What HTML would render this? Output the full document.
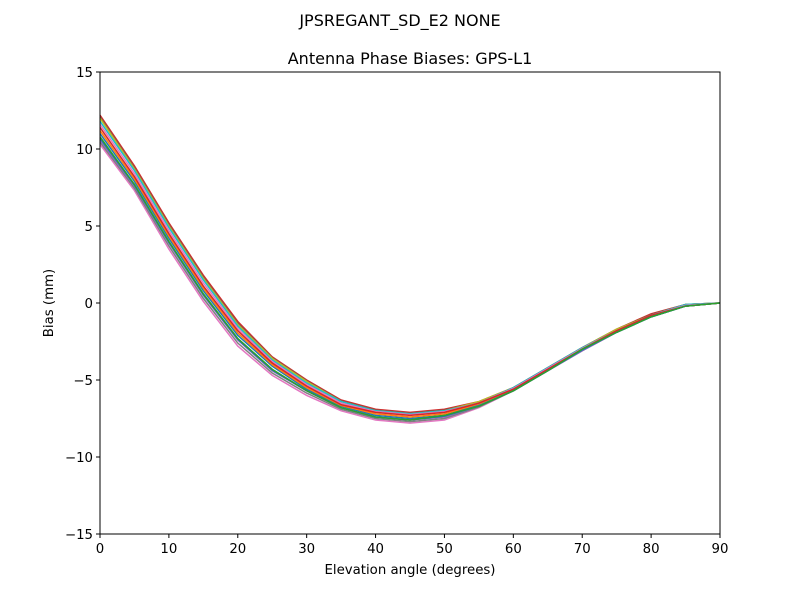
<!DOCTYPE html>
<html><head><meta charset="utf-8"><style>
body{margin:0;background:#fff;}
svg text{font-family:"DejaVu Sans","Liberation Sans",sans-serif;fill:#000;}
</style></head><body>
<svg id="chart" width="800" height="600" xmlns="http://www.w3.org/2000/svg">
<rect width="800" height="600" fill="#fff"/>
<text x="400" y="26" font-size="16" text-anchor="middle">JPSREGANT_SD_E2 NONE</text>
<text x="410" y="64" font-size="16" text-anchor="middle">Antenna Phase Biases: GPS-L1</text>
<g id="lines"></g>
<g id="axes"></g>
<rect x="100" y="72" width="620" height="462" fill="none" stroke="#000" stroke-width="1"/>
<text x="410" y="574" font-size="13.3" text-anchor="middle">Elevation angle (degrees)</text>
<text transform="translate(53,303) rotate(-90)" font-size="13.3" text-anchor="middle">Bias (mm)</text>
</svg>
<script>
const elevations=[0,5,10,15,20,25,30,35,40,45,50,55,60,65,70,75,80,85,90];
const xTicks=[0,10,20,30,40,50,60,70,80,90];
const yTicks=[-15,-10,-5,0,5,10,15];
const s1=[12.2,8.9,5.2,1.8,-1.2,-3.5,-5.0,-6.3,-6.9,-7.1,-6.9,-6.4,-5.5,-4.2,-2.9,-1.7,-0.7,-0.1,0];
const s2=[11.8,8.6,4.9,1.5,-1.5,-3.7,-5.2,-6.4,-7.0,-7.2,-7.0,-6.5,-5.5,-4.2,-2.9,-1.8,-0.8,-0.1,0];
const s3=[11.4,8.2,4.5,1.1,-1.8,-3.9,-5.4,-6.6,-7.1,-7.3,-7.1,-6.5,-5.6,-4.3,-3.0,-1.8,-0.8,-0.2,0];
const s4=[11.0,7.9,4.2,0.8,-2.1,-4.1,-5.6,-6.7,-7.3,-7.5,-7.3,-6.6,-5.6,-4.3,-3.0,-1.9,-0.9,-0.2,0];
const s5=[10.6,7.6,3.9,0.5,-2.4,-4.4,-5.7,-6.8,-7.4,-7.6,-7.4,-6.7,-5.7,-4.4,-3.1,-1.9,-0.9,-0.2,0];
const s6=[10.3,7.3,3.5,0.1,-2.8,-4.7,-6.0,-7.0,-7.6,-7.8,-7.6,-6.8,-5.7,-4.4,-3.1,-1.9,-0.9,-0.2,0];
const s7=[12.0,8.7,5.0,1.6,-1.4,-3.6,-5.1,-6.4,-7.0,-7.2,-7.0,-6.4,-5.5,-4.2,-2.9,-1.7,-0.8,-0.1,0];
const s8=[10.8,7.7,4.0,0.6,-2.3,-4.3,-5.7,-6.8,-7.4,-7.6,-7.3,-6.7,-5.7,-4.4,-3.0,-1.9,-0.9,-0.2,0];
const s9=[10.45,7.45,3.7,0.3,-2.6,-4.55,-5.85,-6.9,-7.5,-7.7,-7.5,-6.75,-5.7,-4.4,-3.1,-1.9,-0.9,-0.2,0];
const s10=[11.6,8.4,4.7,1.3,-1.65,-3.8,-5.3,-6.5,-7.05,-7.25,-7.05,-6.5,-5.55,-4.25,-2.95,-1.8,-0.8,-0.15,0];
const s11=[11.2,8.05,4.35,0.95,-1.95,-4.0,-5.5,-6.65,-7.2,-7.4,-7.2,-6.55,-5.6,-4.3,-3.0,-1.85,-0.85,-0.2,0];
const s12=[12.1,8.8,5.1,1.7,-1.3,-3.55,-5.05,-6.35,-6.95,-7.15,-6.95,-6.45,-5.5,-4.2,-2.9,-1.7,-0.75,-0.1,0];
const s13=[10.7,7.65,3.95,0.55,-2.35,-4.35,-5.7,-6.8,-7.4,-7.6,-7.35,-6.7,-5.7,-4.4,-3.05,-1.9,-0.9,-0.2,0];
const series=[s6,s9,s1,s12,s5,s7,s4,s11,s2,s10,s3,s13,s8];
const colors=["#e377c2","#7f7f7f","#d62728","#8c564b","#9467bd","#bcbd22","#1f77b4","#ff7f0e","#17becf","#e377c2","#d62728","#1f77b4","#2ca02c"];
const NS="http://www.w3.org/2000/svg";
const X0=100,X1=720,Y0=534,Y1=72;
function sx(v){return X0+(v-0)/(90-0)*(X1-X0);}
function sy(v){return Y0-(v+15)/30*(Y0-Y1);}
const lines=document.getElementById('lines');
series.forEach((s,i)=>{
  const p=document.createElementNS(NS,'polyline');
  p.setAttribute('points',s.map((v,j)=>sx(elevations[j])+','+sy(v)).join(' '));
  p.setAttribute('fill','none');p.setAttribute('stroke',colors[i%colors.length]);p.setAttribute('stroke-width','1.5');
  
  
  lines.appendChild(p);
});
const ax=document.getElementById('axes');
xTicks.forEach(t=>{
  const l=document.createElementNS(NS,'line');
  l.setAttribute('x1',sx(t));l.setAttribute('x2',sx(t));l.setAttribute('y1',Y0);l.setAttribute('y2',Y0+4);l.setAttribute('stroke','#000');
  
  
  ax.appendChild(l);
  const tx=document.createElementNS(NS,'text');
  tx.setAttribute('x',sx(t));tx.setAttribute('y',Y0+19);tx.setAttribute('font-size','13.3');tx.setAttribute('text-anchor','middle');
  tx.textContent=t;
  
  
  ax.appendChild(tx);
});
yTicks.forEach(t=>{
  const l=document.createElementNS(NS,'line');
  l.setAttribute('x1',X0-4);l.setAttribute('x2',X0);l.setAttribute('y1',sy(t));l.setAttribute('y2',sy(t));l.setAttribute('stroke','#000');
  
  
  ax.appendChild(l);
  const tx=document.createElementNS(NS,'text');
  tx.setAttribute('x',X0-7);tx.setAttribute('y',sy(t)+5);tx.setAttribute('font-size','13.3');tx.setAttribute('text-anchor','end');
  tx.textContent=t<0?'\u2212'+Math.abs(t):t;
  
  
  ax.appendChild(tx);
});
</script>
</body></html>
